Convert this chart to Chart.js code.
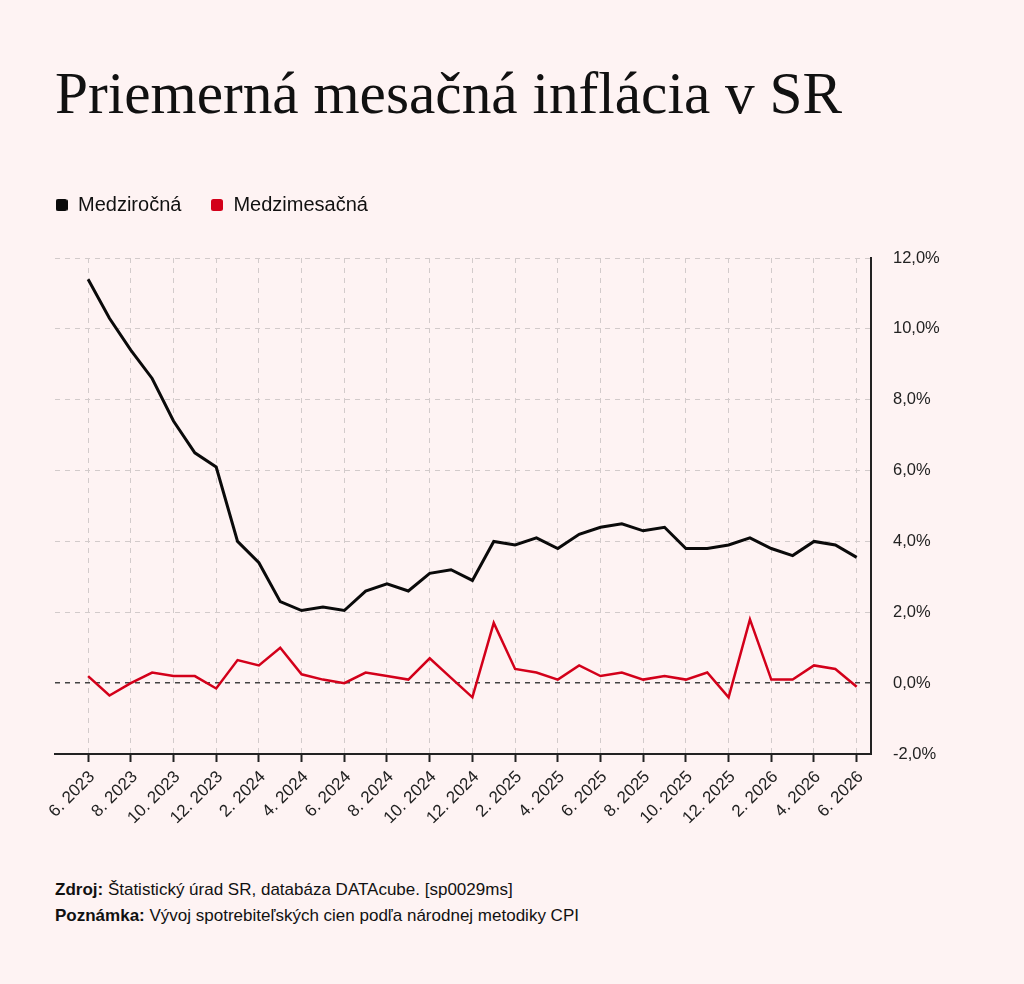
<!DOCTYPE html>
<html lang="sk">
<head>
<meta charset="utf-8">
<title>Priemerná mesačná inflácia v SR</title>
<script src="https://cdn.jsdelivr.net/npm/chart.js@4.4.1/dist/chart.umd.min.js"></script>
<style>
  html, body { margin: 0; padding: 0; }
  body { width: 1024px; height: 984px; background: #fef3f3; position: relative; overflow: hidden;
         font-family: "Liberation Sans", Arial, sans-serif; color: #111; }
  #title { position: absolute; left: 55px; top: 64px; margin: 0; font-family: "Liberation Serif", "Times New Roman", serif;
           font-weight: normal; font-size: 59.3px; line-height: 59.3px; color: #111; white-space: nowrap; }
  #wrap { position: absolute; left: 35px; top: 166px; width: 916px; height: 688px; }
  #foot { position: absolute; left: 55px; top: 877px; font-size: 17px; line-height: 26px; color: #111; }
</style>
</head>
<body>
<h1 id="title">Priemerná mesačná inflácia v SR</h1>
<div id="wrap"><canvas id="grafInflacia"></canvas></div>
<div id="foot">
  <div><b>Zdroj:</b> Štatistický úrad SR, databáza DATAcube. [sp0029ms]</div>
  <div><b>Poznámka:</b> Vývoj spotrebiteľských cien podľa národnej metodiky CPI</div>
</div>
<script>
// mesiace 6/2023 - 6/2026
const mesiace = [
  "6. 2023", "7. 2023", "8. 2023", "9. 2023", "10. 2023", "11. 2023", "12. 2023",
  "1. 2024", "2. 2024", "3. 2024", "4. 2024", "5. 2024", "6. 2024", "7. 2024", "8. 2024",
  "9. 2024", "10. 2024", "11. 2024", "12. 2024",
  "1. 2025", "2. 2025", "3. 2025", "4. 2025", "5. 2025", "6. 2025", "7. 2025", "8. 2025",
  "9. 2025", "10. 2025", "11. 2025", "12. 2025",
  "1. 2026", "2. 2026", "3. 2026", "4. 2026", "5. 2026", "6. 2026"
];

// medziročná inflácia (%)
const medzirocna = [
  11.4, 10.3, 9.4, 8.6, 7.4, 6.5, 6.1,
  4.0, 3.4, 2.3, 2.05, 2.15, 2.05, 2.6, 2.8, 2.6, 3.1, 3.2, 2.9,
  4.0, 3.9, 4.1, 3.8, 4.2, 4.4, 4.5, 4.3, 4.4, 3.8, 3.8, 3.9,
  4.1, 3.8, 3.6, 4.0, 3.9, 3.55
];

// medzimesačná inflácia (%)
const medzimesacna = [
  0.2, -0.35, 0.0, 0.3, 0.2, 0.2, -0.15,
  0.65, 0.5, 1.0, 0.25, 0.1, 0.0, 0.3, 0.2, 0.1, 0.7, 0.15, -0.4,
  1.7, 0.4, 0.3, 0.1, 0.5, 0.2, 0.3, 0.1, 0.2, 0.1, 0.3, -0.4,
  1.8, 0.1, 0.1, 0.5, 0.4, -0.1
];

// popisky osi Y
const yTicky = [-2, 0, 2, 4, 6, 8, 10, 12];

const farbaCierna = "#0a0a0a";
const farbaCervena = "#d3001a";
const farbaMriezky = "#d2cbcb";

// malý zaoblený štvorček do legendy
function znacka(farba) {
  const c = document.createElement("canvas");
  c.width = 12; c.height = 12;
  const g = c.getContext("2d");
  g.fillStyle = farba;
  g.beginPath();
  g.roundRect(0, 0, 12, 12, 2.5);
  g.fill();
  return c;
}

const legendaPad = 29;

// viac miesta pod legendou + posun legendy na okraj
const legendaUprava = {
  id: "legendaUprava",
  beforeInit(chart) {
    const fit = chart.legend.fit;
    chart.legend.fit = function () {
      fit.bind(chart.legend)();
      this.height = 92;
    };
  },
  afterLayout(chart) {
    chart.legend.left -= legendaPad;
  }
};

Chart.defaults.font.family = '"Liberation Sans", Arial, sans-serif';
Chart.defaults.color = "#111";

let ctx = document.getElementById("grafInflacia").getContext("2d");

var graf = new Chart(ctx, {
  type: "line",
  data: {
    datasets: [
      {
        label: "Medziročná",
        data: medzirocna.map((v, i) => ({ x: i, y: v })),
        borderColor: farbaCierna,
        backgroundColor: farbaCierna,
        borderWidth: 3,
        pointRadius: 0,
        pointStyle: znacka(farbaCierna),
        tension: 0
      },
      {
        label: "Medzimesačná",
        data: medzimesacna.map((v, i) => ({ x: i, y: v })),
        borderColor: farbaCervena,
        backgroundColor: farbaCervena,
        borderWidth: 2.5,
        pointRadius: 0,
        pointStyle: znacka(farbaCervena),
        tension: 0
      }
    ]
  },
  plugins: [legendaUprava],
  options: {
    responsive: true,
    maintainAspectRatio: false,
    animation: false,
    layout: { padding: { left: 20, right: 0, top: 0, bottom: 0 } },
    plugins: {
      legend: {
        position: "top",
        align: "start",
        labels: {
          usePointStyle: true,
          boxWidth: 13,
          boxHeight: 12,
          padding: legendaPad,
          color: "#111",
          font: { size: 20 }
        }
      },
      tooltip: { enabled: false }
    },
    scales: {
      x: {
        type: "linear",
        min: -1.55,
        max: 36.67,
        afterBuildTicks: (s) => {
          s.ticks = mesiace.map((m, i) => i).filter(i => i % 2 === 0).map(i => ({ value: i }));
        },
        afterFit: (s) => { s.height = 100; },
        ticks: {
          autoSkip: false,
          minRotation: 45,
          maxRotation: 45,
          padding: 5,
          labelOffset: 4,
          color: "#222",
          font: { size: 17 },
          callback: (v) => mesiace[v]
        },
        grid: {
          color: farbaMriezky,
          lineWidth: 1,
          drawTicks: true,
          tickLength: 8,
          tickWidth: 2,
          tickColor: "#222"
        },
        border: { display: true, color: "#222", width: 2, dash: [5, 5] }
      },
      y: {
        position: "right",
        min: -2,
        max: 12,
        afterBuildTicks: (s) => { s.ticks = yTicky.map(v => ({ value: v })); },
        afterFit: (s) => { s.width = 80; },
        ticks: {
          padding: 22,
          color: "#222",
          font: { size: 16.5 },
          callback: (v) => v.toFixed(1).replace(".", ",") + "%"
        },
        grid: {
          drawTicks: false,
          color: (c) => (c.tick && c.tick.value === 0 ? "#444" : farbaMriezky),
          lineWidth: (c) => (c.tick && c.tick.value === 0 ? 1.5 : 1)
        },
        border: { display: true, color: "#222", width: 2, dash: [5, 5] }
      }
    }
  }
});
</script>
</body>
</html>
